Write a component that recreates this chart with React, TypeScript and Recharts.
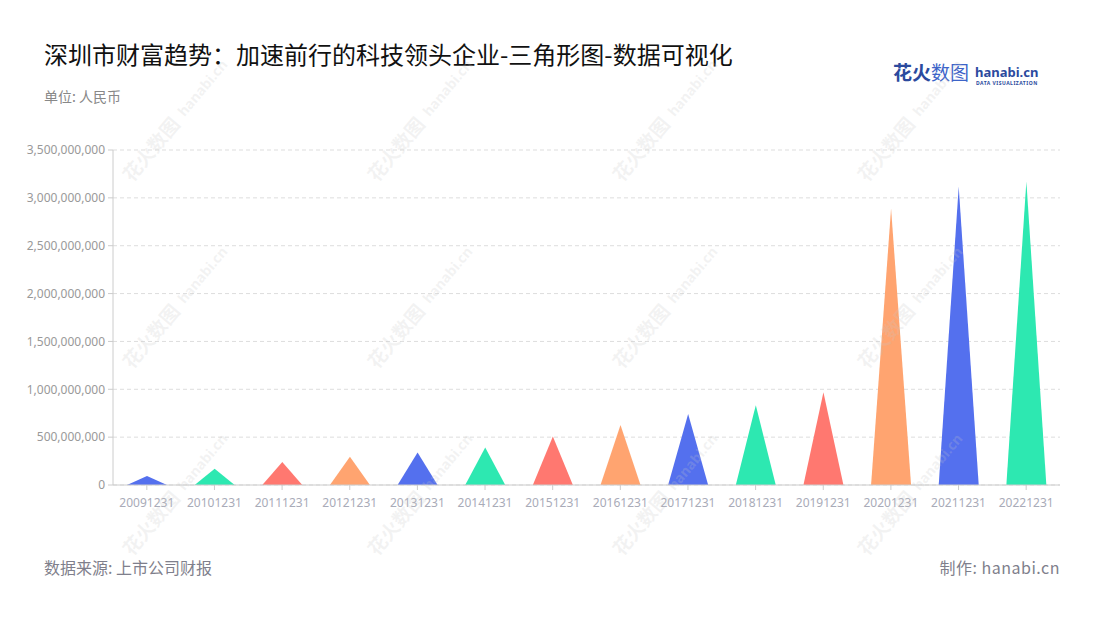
import React from 'react';
import { BarChart, Bar, XAxis, YAxis, CartesianGrid, Cell } from 'recharts';

const categories = ['20091231','20101231','20111231','20121231','20131231','20141231','20151231','20161231','20171231','20181231','20191231','20201231','20211231','20221231'];
const wealth = [94000000,171000000,241000000,294000000,339000000,392000000,507000000,626000000,741000000,832000000,969000000,2888000000,3115000000,3171000000];
const yTicks = [0,500000000,1000000000,1500000000,2000000000,2500000000,3000000000,3500000000];
const palette = ['#5470EE','#2DE8B1','#FF7870','#FFA470'];

const data = categories.map((c, i) => ({ date: c, value: wealth[i] }));

const fmt = (v: number) => v.toLocaleString('en-US');

const Triangle = (props: any) => {
  const { x, y, width, height, fill } = props;
  if (height <= 0) return null;
  const d = `M${x},${y + height} L${x + width / 2},${y} L${x + width},${y + height} Z`;
  return <path d={d} fill={fill} />;
};

const wmRows = [183, 370, 557];
const wmCols = [132, 377, 622, 867];

const Watermarks = () => (
  <svg width={1100} height={620} style={{ position: 'absolute', left: 0, top: 0, pointerEvents: 'none' }}>
    {wmRows.map((ry) =>
      wmCols.map((cx) => (
        <g key={`${cx}-${ry}`} transform={`translate(${cx},${ry}) rotate(-50)`} fill="rgba(200,200,200,0.22)">
          <text x={0} y={0} fontFamily="Noto Sans CJK SC" fontWeight="bold" fontSize={19}>花火数图</text>
          <text x={84} y={-2} fontFamily="Noto Sans" fontWeight="bold" fontSize={14}>hanabi.cn</text>
        </g>
      ))
    )}
  </svg>
);

export default function App() {
  return (
    <div style={{ position: 'absolute', left: 0, top: 0, width: 1100, height: 620, background: '#fff', fontFamily: 'Noto Sans CJK SC, Noto Sans, sans-serif' }}>
      <div style={{ position: 'absolute', left: 44, top: 38, fontSize: 24, color: '#111', whiteSpace: 'nowrap', lineHeight: '32px' }}>
        深圳市财富趋势：加速前行的科技领头企业-三角形图-数据可视化
      </div>
      <div style={{ position: 'absolute', left: 44, top: 85, fontSize: 14, color: '#888', lineHeight: '22px' }}>单位: 人民币</div>
      <svg width={160} height={40} style={{ position: 'absolute', left: 890, top: 55 }}>
        <text x={3} y={25} fontFamily="Noto Sans CJK SC" fontWeight="bold" fontSize={19} fill="#2B4A9E">花火</text>
        <text x={41} y={25} fontFamily="Noto Sans CJK SC" fontSize={19} fill="#3D64C8">数图</text>
        <text x={85} y={22} fontFamily="Noto Sans" fontWeight="bold" fontSize={13} fill="#2B4A9E">hanabi.cn</text>
        <text x={86} y={30} fontFamily="Noto Sans" fontWeight="bold" fontSize={5} fill="#2B4A9E" letterSpacing={0.5}>DATA VISUALIZATION</text>
      </svg>
      <div style={{ position: 'absolute', left: 0, top: 0 }}>
        <BarChart width={1100} height={620} data={data} margin={{ top: 150, right: 40, left: 0, bottom: 105 }}>
          <CartesianGrid vertical={false} stroke="#dddddd" strokeDasharray="4 3" />
          <XAxis
            dataKey="date"
            height={30}
            tick={{ fill: '#a9abb8', fontSize: 12, fontFamily: 'Noto Sans' }}
            tickSize={5}
            tickMargin={8}
            axisLine={{ stroke: '#cccccc' }}
            tickLine={{ stroke: '#cccccc' }}
            interval={0}
          />
          <YAxis
            width={113}
            domain={[0, 3500000000]}
            ticks={yTicks}
            tickFormatter={fmt}
            tick={{ fill: '#999999', fontSize: 12, fontFamily: 'Noto Sans' }}
            tickSize={5}
            tickMargin={3}
            axisLine={{ stroke: '#cccccc' }}
            tickLine={{ stroke: '#cccccc' }}
            interval={0}
          />
          <Bar dataKey="value" barSize={40} shape={<Triangle />} isAnimationActive={false}>
            {data.map((d, i) => (
              <Cell key={d.date} fill={palette[i % palette.length]} />
            ))}
          </Bar>
        </BarChart>
      </div>
      <Watermarks />
      <div style={{ position: 'absolute', left: 44, top: 555, fontSize: 16, color: '#7f7f8c', lineHeight: '24px' }}>数据来源: 上市公司财报</div>
      <div style={{ position: 'absolute', right: 40, top: 555, fontSize: 16, color: '#7f7f8c', lineHeight: '24px', letterSpacing: 0.5 }}>制作: hanabi.cn</div>
    </div>
  );
}
